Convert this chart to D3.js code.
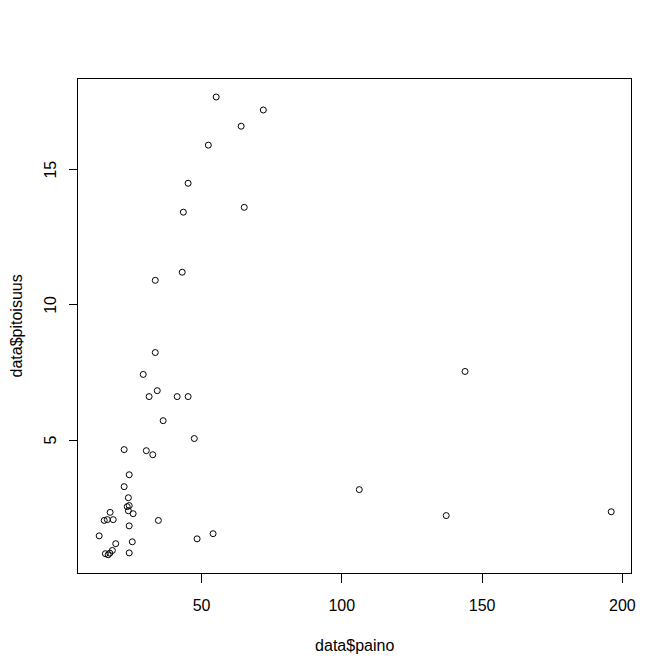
<!DOCTYPE html>
<html>
<head>
<meta charset="utf-8">
<script src="https://cdn.jsdelivr.net/npm/d3@7"></script>
<style>
  html, body { margin: 0; padding: 0; background: #fff; }
  svg { display: block; }
  text { font-family: "Liberation Sans", Arial, "DejaVu Sans", sans-serif; font-size: 16px; fill: #000; }
</style>
</head>
<body>
<svg id="chart" width="672" height="671"></svg>
<script>
// data$paino (x) and data$pitoisuus (y)
const paino = [55.4, 72.2, 64.3, 52.6, 45.4, 65.4, 43.7, 43.3, 33.7, 33.7,
               29.4, 34.4, 31.5, 41.5, 45.4, 36.5, 47.6, 22.6, 30.5, 32.8,
               144.1, 24.4, 22.6, 24.1, 24.4, 23.7, 24.1, 25.8, 17.6, 15.5,
               16.6, 18.7, 34.8, 24.4, 13.7, 54.3, 48.6, 19.6, 25.5, 18.4,
               15.9, 16.9, 17.5, 24.4, 106.4, 137.4, 196.2];
const pitoisuus = [17.67, 17.19, 16.59, 15.89, 14.48, 13.59, 13.41, 11.19, 10.89, 8.22,
                   7.41, 6.81, 6.59, 6.59, 6.59, 5.70, 5.04, 4.63, 4.59, 4.44,
                   7.52, 3.70, 3.26, 2.85, 2.56, 2.52, 2.37, 2.26, 2.31, 2.01,
                   2.04, 2.04, 2.01, 1.81, 1.44, 1.52, 1.33, 1.15, 1.22, 0.90,
                   0.78, 0.74, 0.80, 0.81, 3.15, 2.19, 2.33];
const xTicks = [50, 100, 150, 200];
const yTicks = [5, 10, 15];
const xLabel = "data$paino";
const yLabel = "data$pitoisuus";

const svg = d3.select("#chart");

// plot region (R default margins at 96 dpi)
const plot = { left: 78.7, right: 631.7, top: 78.7, bottom: 573.1 };

function rPad(ext) {
  const r = ext[1] - ext[0];
  return [ext[0] - 0.04 * r, ext[1] + 0.04 * r];
}

const x = d3.scaleLinear().domain(rPad(d3.extent(paino))).range([plot.left, plot.right]);
const y = d3.scaleLinear().domain(rPad(d3.extent(pitoisuus))).range([plot.bottom, plot.top]);

// box
svg.append("rect")
  .attr("x", 77.5).attr("y", 78.5)
  .attr("width", 631.5 - 77.5).attr("height", 573.5 - 78.5)
  .attr("fill", "none").attr("stroke", "#000").attr("stroke-width", 1)
  .attr("shape-rendering", "crispEdges");

// x axis
const gx = svg.append("g")
  .attr("transform", "translate(0,573.5)")
  .call(d3.axisBottom(x).tickValues(xTicks).tickSize(9).tickSizeOuter(0).tickFormat(d3.format("d")));
gx.select(".domain").remove();
gx.selectAll(".tick line").attr("stroke", "#000").attr("shape-rendering", "crispEdges");
gx.selectAll(".tick text")
  .attr("y", 37.2).attr("dy", 0)
  .style("font-family", "'Liberation Sans', Arial, sans-serif").style("font-size", "16px").attr("fill", "#000");

// y axis
const gy = svg.append("g")
  .attr("transform", "translate(77.5,0)")
  .call(d3.axisLeft(y).tickValues(yTicks).tickSize(9).tickSizeOuter(0).tickFormat(d3.format("d")));
gy.select(".domain").remove();
gy.selectAll(".tick line").attr("stroke", "#000").attr("shape-rendering", "crispEdges");
gy.selectAll(".tick text")
  .attr("x", 0).attr("y", -21.5).attr("dy", 0)
  .attr("transform", "rotate(-90)")
  .attr("text-anchor", "middle")
  .style("font-family", "'Liberation Sans', Arial, sans-serif").style("font-size", "16px").attr("fill", "#000");

// titles
svg.append("text")
  .attr("x", (plot.left + plot.right) / 2 - 0.5).attr("y", 650.7)
  .attr("text-anchor", "middle")
  .text(xLabel);
svg.append("text")
  .attr("transform", `translate(21.5,${(plot.top + plot.bottom) / 2}) rotate(-90)`)
  .attr("text-anchor", "middle")
  .text(yLabel);

// points
svg.append("g")
  .selectAll("circle")
  .data(paino.map((v, i) => [v, pitoisuus[i]]))
  .join("circle")
  .attr("cx", d => x(d[0]))
  .attr("cy", d => y(d[1]))
  .attr("r", 3)
  .attr("fill", "none")
  .attr("stroke", "#000")
  .attr("stroke-width", 1);
</script>
</body>
</html>
